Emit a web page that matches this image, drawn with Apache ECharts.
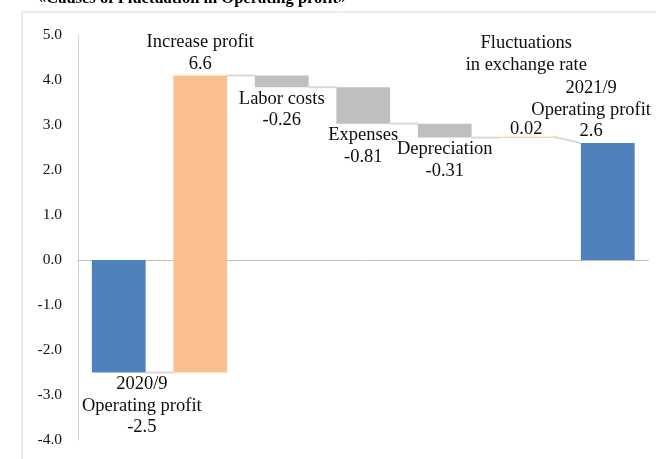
<!DOCTYPE html>
<html>
<head>
<meta charset="utf-8">
<script src="https://cdn.jsdelivr.net/npm/echarts@6/dist/echarts.min.js"></script>
<style>html,body{margin:0;padding:0;background:#fff}#c{width:656px;height:459px}</style>
</head>
<body>
<div id="c"></div>
<script>
// ---- data ----
const categories = ['2020/9\nOperating profit', 'Increase profit', 'Labor costs', 'Expenses', 'Depreciation', 'Fluctuations\nin exchange rate', '2021/9\nOperating profit'];
const values = [-2.5, 6.6, -0.26, -0.81, -0.31, 0.02, 2.6];
const kinds = ['total', 'delta', 'delta', 'delta', 'delta', 'delta', 'total'];
const yTicks = [-4, -3, -2, -1, 0, 1, 2, 3, 4, 5];

// ---- layout (not data) ----
const labelSide = ['below', 'above', 'below', 'below', 'below', 'above', 'above'];
const separateNameAt = [null, null, null, null, null, 4.58, null]; // y-value where the name sits when detached
const FONT = 'Liberation Serif, Times New Roman, serif';
const LABEL_SIZE = 18.5, LABEL_LH = 21.5;
const C_TOTAL = '#4F81BD', C_UP = '#FAC090', C_DOWN = '#BFBFBF', C_LINK = '#D9D9D9';
const CHART_W = 656;

const measureCtx = document.createElement('canvas').getContext('2d');
function textWidth(str) {
  measureCtx.font = LABEL_SIZE + 'px ' + FONT;
  return Math.max.apply(null, str.split('\n').map(s => measureCtx.measureText(s).width));
}

// build waterfall segments
const segs = [];
let run = 0;
values.forEach((v, i) => {
  let low, high, start, end;
  if (kinds[i] === 'total') { low = Math.min(0, v); high = Math.max(0, v); start = v; end = v; run = v; }
  else { start = run; end = run + v; low = Math.min(start, end); high = Math.max(start, end); run = end; }
  segs.push({ i, low, high, start, end, v });
});
const barData = segs.map(s => [s.i, s.low, s.high, s.v]);
const linkData = [];
for (let k = 0; k < segs.length - 1; k++) linkData.push([k, segs[k].end, segs[k + 1].start]);

function colorFor(i, v) {
  if (kinds[i] === 'total') return C_TOTAL;
  return v >= 0 ? C_UP : C_DOWN;
}

const chart = echarts.init(document.getElementById('c'));
chart.setOption({
  animation: false,
  title: {
    text: '«Causes of Fluctuation in Operating profit»',
    left: 33, top: -15,
    textStyle: { fontFamily: FONT, fontWeight: 'bold', fontSize: 16.5, color: '#000' }
  },
  graphic: [{
    type: 'rect', silent: true, z: -10,
    shape: { x: 22, y: 12, width: 700, height: 500 },
    style: { fill: 'none', stroke: '#D9D9D9', lineWidth: 1 }
  }],
  grid: { left: 78, right: 7.5, top: 35, bottom: 19 },
  xAxis: {
    type: 'category', data: categories,
    axisLabel: { show: false }, axisTick: { show: false },
    axisLine: { show: true, onZero: true, lineStyle: { color: '#BFBFBF', width: 1 } },
    splitLine: { show: false }
  },
  yAxis: {
    type: 'value', min: yTicks[0], max: yTicks[yTicks.length - 1], interval: 1,
    axisLine: { show: true, lineStyle: { color: '#D0D0D0', width: 1 } },
    axisTick: { show: false }, splitLine: { show: false },
    axisLabel: { margin: 16, fontFamily: FONT, fontSize: 15.5, color: '#111', formatter: v => v.toFixed(1) }
  },
  series: [
    {
      type: 'custom', data: linkData, encode: { x: 0, y: [1, 2] }, z: 1,
      renderItem(params, api) {
        const k = api.value(0);
        const bw = api.size([1, 0])[0] * 0.66;
        const a = api.coord([k, api.value(1)]);
        const b = api.coord([k + 1, api.value(2)]);
        return {
          type: 'line',
          shape: { x1: a[0] + bw / 2, y1: a[1], x2: b[0] - bw / 2, y2: b[1] },
          style: { stroke: C_LINK, lineWidth: 2 }
        };
      }
    },
    {
      type: 'custom', data: barData, encode: { x: 0, y: [1, 2] }, z: 2,
      renderItem(params, api) {
        const i = api.value(0), low = api.value(1), high = api.value(2), v = api.value(3);
        const bw = api.size([1, 0])[0] * 0.66;
        const top = api.coord([i, high]);
        const bot = api.coord([i, low]);
        const cx = top[0];
        const h = Math.max(bot[1] - top[1], 1);
        const minX = params.coordSys.x + 4, maxX = CHART_W - 5;
        function clampX(str) {
          const w = textWidth(str);
          let x = cx;
          if (x - w / 2 < minX) x = minX + w / 2;
          if (x + w / 2 > maxX) x = maxX - w / 2;
          return x;
        }
        const children = [{
          type: 'rect',
          shape: { x: cx - bw / 2, y: top[1], width: bw, height: h },
          style: { fill: colorFor(i, v) }
        }];
        const txtStyle = { fontFamily: FONT, fontSize: LABEL_SIZE, lineHeight: LABEL_LH, fill: '#0d0d0d', align: 'center' };
        const name = categories[i];
        const valStr = String(v);
        if (separateNameAt[i] !== null) {
          const np = api.coord([i, separateNameAt[i]]);
          children.push({ type: 'text', style: Object.assign({}, txtStyle, { text: name, x: clampX(name), y: np[1], verticalAlign: 'middle' }) });
          children.push({ type: 'text', style: Object.assign({}, txtStyle, { text: valStr, x: cx, y: top[1] + 3, verticalAlign: 'bottom' }) });
        } else {
          const t = name + '\n' + valStr;
          if (labelSide[i] === 'above') {
            children.push({ type: 'text', style: Object.assign({}, txtStyle, { text: t, x: clampX(t), y: top[1] - 1, verticalAlign: 'bottom' }) });
          } else {
            children.push({ type: 'text', style: Object.assign({}, txtStyle, { text: t, x: clampX(t), y: bot[1] + 1, verticalAlign: 'top' }) });
          }
        }
        return { type: 'group', children };
      }
    }
  ]
});
</script>
</body>
</html>
